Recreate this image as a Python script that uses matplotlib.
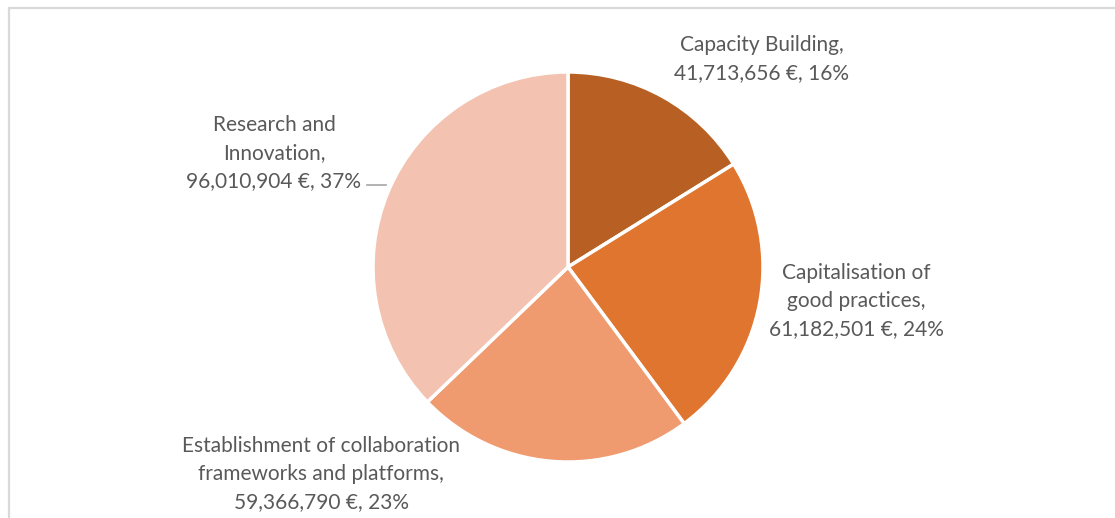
import matplotlib.pyplot as plt
from matplotlib.patches import Rectangle

# dados do gráfico
categories = ["Capacity Building", "Capitalisation of good practices",
              "Establishment of collaboration frameworks and platforms",
              "Research and Innovation"]
values = [41713656, 61182501, 59366790, 96010904]
colors = ["#B86023", "#DF752E", "#F09A70", "#F4C2B0"]

# quebras de linha dos rótulos, como no original
label_lines = [["Capacity Building,"],
               ["Capitalisation of", "good practices,"],
               ["Establishment of collaboration", "frameworks and platforms,"],
               ["Research and", "Innovation,"]]

W, H = 1115, 518
fig = plt.figure(figsize=(W / 100, H / 100), dpi=100)
ax = fig.add_axes([0, 0, 1, 1])

# moldura cinza clara
fig.patches.append(Rectangle((9 / W, -0.1), 1.2, (H - 8) / H + 0.1, transform=fig.transFigure,
                             fill=False, edgecolor="#D9D9D9", linewidth=1.6))

ax.pie(values, colors=colors, startangle=90, counterclock=False,
       center=(568, H - 267), radius=195,
       wedgeprops=dict(edgecolor="white", linewidth=2.5))

# o pie redefine os limites, então reaplica depois
ax.set_xlim(0, W)
ax.set_ylim(0, H)
ax.set_aspect("equal")
ax.axis("off")

total = sum(values)
label_pos = [(762, 59), (856, 301), (321, 474), (274, 153)]
for lines, v, (x, y) in zip(label_lines, values, label_pos):
    txt = "\n".join(lines + ["{:,} €, {:.0f}%".format(v, 100 * v / total)])
    ax.text(x, H - y, txt, ha="center", va="center", fontsize=15, color="#595959",
            family="Lato", linespacing=1.5)

# linha guia do rótulo de Research and Innovation
ax.plot([367, 386], [H - 185, H - 185], color="#A6A6A6", linewidth=1.2)

fig.savefig("out.png", dpi=100, facecolor="white")
